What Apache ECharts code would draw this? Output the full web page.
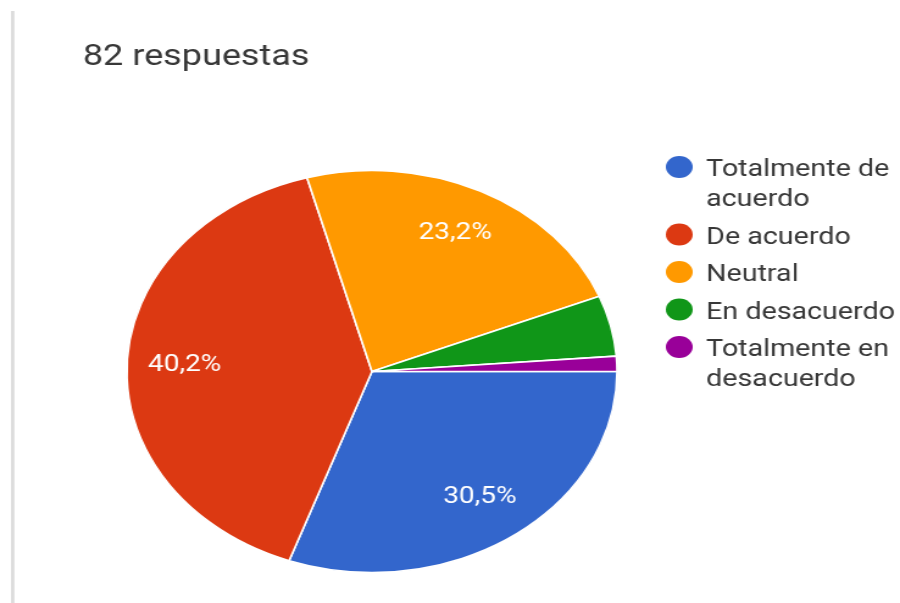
<!DOCTYPE html>
<html>
<head>
<meta charset="utf-8">
<script src="https://cdn.jsdelivr.net/npm/echarts@6/dist/echarts.min.js"></script>
<style>
  html, body { margin: 0; padding: 0; background: #fff; overflow: hidden; }
  #wrap { width: 900px; height: 603px; overflow: hidden; }
  /* the chart is drawn at a narrower width and widened horizontally */
  #chart { width: 738px; height: 603px; transform: scaleX(1.2195); transform-origin: 0 0; }
</style>
</head>
<body>
<div id="wrap"><div id="chart"></div></div>
<script>
const titleText = '82 respuestas';
const categories = ['Totalmente de acuerdo', 'De acuerdo', 'Neutral', 'En desacuerdo', 'Totalmente en desacuerdo'];
const legendLabels = [['Totalmente de', 'acuerdo'], ['De acuerdo'], ['Neutral'], ['En desacuerdo'], ['Totalmente en', 'desacuerdo']];
const counts = [25, 33, 19, 4, 1];
const colors = ['#3366cc', '#dc3912', '#ff9900', '#109618', '#990099'];

const FONT = 'Roboto, "Noto Sans", sans-serif';
const TEXT_COLOR = '#383838';
const CX = 305, CY = 371.5, R = 201;

const pieData = categories.map((name, i) => ({
  name: name,
  value: counts[i],
  itemStyle: { color: colors[i] }
}));

// legend: dot + wrapped label per category
const legendElements = [];
const LEG_X = 557, TEXT_X = 579, LINE_H = 30, ITEM_GAP = 7.5;
let y = 167;
legendLabels.forEach((lines, i) => {
  legendElements.push({
    type: 'circle',
    shape: { cx: LEG_X, cy: y, r: 11 },
    style: { fill: colors[i] }
  });
  lines.forEach((line, k) => {
    legendElements.push({
      type: 'text',
      x: TEXT_X,
      y: y + 3.5 + k * LINE_H,
      style: {
        text: line,
        fill: TEXT_COLOR,
        font: '23.5px ' + FONT,
        verticalAlign: 'middle',
        align: 'left'
      }
    });
  });
  y += lines.length * LINE_H + ITEM_GAP;
});

const chart = echarts.init(document.getElementById('chart'), null, { renderer: 'canvas' });
chart.setOption({
  backgroundColor: '#ffffff',
  animation: false,
  graphic: [
    { type: 'rect', shape: { x: 9, y: 11, width: 2.8, height: 600 }, style: { fill: '#dcdcdc' } },
    {
      type: 'text', x: 68, y: 58,
      style: { text: titleText, fill: TEXT_COLOR, font: '29.5px ' + FONT, verticalAlign: 'middle', align: 'left' }
    }
  ].concat(legendElements),
  series: [
    {
      type: 'pie',
      center: [CX, CY],
      radius: R,
      startAngle: 0,
      clockwise: true,
      silent: true,
      itemStyle: { borderColor: '#ffffff', borderWidth: 1.6 },
      label: { show: false },
      labelLine: { show: false },
      data: pieData
    },
    {
      // percentage labels placed at three quarters of the radius
      type: 'pie',
      center: [CX, CY],
      radius: [R / 2, R],
      startAngle: 0,
      clockwise: true,
      silent: true,
      percentPrecision: 1,
      itemStyle: { color: 'transparent', borderWidth: 0 },
      labelLine: { show: false },
      label: {
        show: true,
        position: 'inside',
        color: '#ffffff',
        fontSize: 23,
        fontFamily: FONT,
        formatter: p => (p.percent >= 10 ? p.percent.toFixed(1).replace('.', ',') + '%' : '')
      },
      data: categories.map((name, i) => ({ name: name, value: counts[i], itemStyle: { color: 'transparent' } }))
    }
  ]
});
</script>
</body>
</html>
